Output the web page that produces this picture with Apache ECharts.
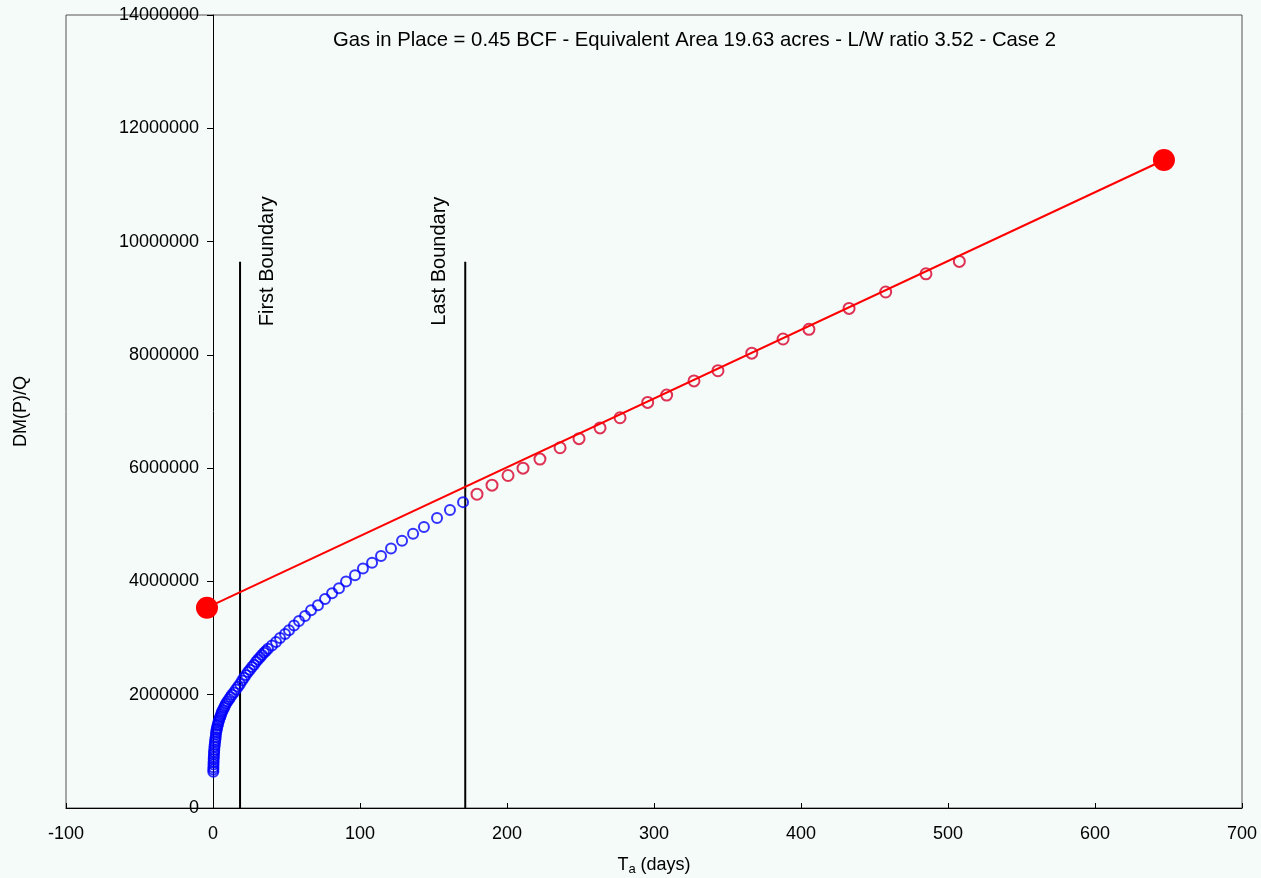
<!DOCTYPE html>
<html>
<head>
<meta charset="utf-8">
<title>DM(P)/Q vs Ta</title>
<script src="https://cdn.jsdelivr.net/npm/echarts@6/dist/echarts.min.js"></script>
<style>
  html, body { margin: 0; padding: 0; background: #f5fbf9; }
  #chart { width: 1261px; height: 878px; }
</style>
</head>
<body>
<div id="chart"></div>
<script>
// Material-balance time (days) and normalized pseudo-pressure drop, transient part
const blueT = [0.2, 0.25, 0.3, 0.35, 0.4, 0.47, 0.55, 0.65, 0.75, 0.87, 1.0, 1.2, 1.4, 1.6, 1.8, 2.0, 2.2, 2.45, 2.7, 3.0,
  3.4, 3.7, 4.1, 4.6, 5.1, 5.6, 6.1, 6.8, 7.5, 8.1, 8.8, 9.8, 10.9, 11.9, 12.9, 14.2, 15.6, 17.0, 18.4, 19.8,
  21.1, 22.4, 23.8, 25.1, 26.5, 27.9, 29.3, 30.6, 32.0, 33.3, 34.7, 36.0, 37.4, 40.1, 42.9, 45.6, 49.0, 51.7, 55.1, 58.5,
  62.6, 66.7, 71.4, 76.2, 81.0, 85.7, 90.5, 96.6, 102.0, 108.2, 114.3, 121.1, 128.6, 136.1, 143.5, 152.4, 161.2, 170.1];
const blueY = [640000, 680000, 720000, 770000, 810000, 860000, 900000, 950000, 990000, 1030000, 1080000, 1120000, 1170000, 1210000, 1250000, 1300000, 1340000, 1380000, 1410000, 1450000,
  1480000, 1520000, 1550000, 1590000, 1620000, 1660000, 1700000, 1730000, 1770000, 1800000, 1840000, 1880000, 1920000, 1960000, 2000000, 2040000, 2090000, 2140000, 2190000, 2250000,
  2300000, 2350000, 2400000, 2440000, 2490000, 2530000, 2580000, 2620000, 2660000, 2700000, 2740000, 2770000, 2810000, 2870000, 2930000, 3000000, 3070000, 3140000, 3220000, 3300000,
  3390000, 3490000, 3580000, 3690000, 3790000, 3880000, 4000000, 4110000, 4230000, 4330000, 4450000, 4580000, 4720000, 4840000, 4960000, 5120000, 5260000, 5400000];

// Boundary-dominated part
const redT = [179.6, 189.8, 200.7, 210.9, 222.4, 236.1, 249.0, 263.3, 276.9, 295.7, 308.6, 327.2, 343.5, 366.5, 387.8, 405.4, 432.7, 457.6, 485.0, 507.7];
const redY = [5540000, 5700000, 5870000, 6000000, 6160000, 6360000, 6520000, 6710000, 6890000, 7160000, 7290000, 7540000, 7720000, 8030000, 8280000, 8450000, 8820000, 9110000, 9430000, 9650000];

// Straight-line fit end points
const fitT = [-4.1, 646.9];
const fitY = [3536000, 11440000];

// Boundary times
const firstBoundaryT = 18.4;
const lastBoundaryT = 171.6;
const boundaryTop = 9645000;

const titleText = 'Gas in Place = 0.45 BCF - Equivalent Area 19.63 acres - L/W ratio 3.52 - Case 2';

const X_MIN = -100, X_MAX = 700;
const GRID_LEFT = 66, GRID_RIGHT = 19;

const FONT = 'Liberation Sans, Arial, Helvetica, sans-serif';
const chart = echarts.init(document.getElementById('chart'));

const zip = (a, b) => a.map((v, i) => [v, b[i]]);

// The y axis sits on x = 0: shift it inward from the grid's left edge
const plotWidth = 1261 - GRID_LEFT - GRID_RIGHT;
const yAxisShift = -plotWidth * (0 - X_MIN) / (X_MAX - X_MIN);

function boundarySeries(t, name, dx) {
  return {
    type: 'line',
    name: name,
    data: [
      { value: [t, 0] },
      { value: [t, boundaryTop], label: {
          show: true, formatter: name, rotate: 90, position: [dx, 0],
          align: 'center', verticalAlign: 'middle',
          color: '#000', fontSize: 20, fontFamily: FONT
        } }
    ],
    symbol: 'circle', symbolSize: 1,
    itemStyle: { color: 'rgba(0,0,0,0)' },
    lineStyle: { color: '#000', width: 2 },
    z: 2, silent: true
  };
}

chart.setOption({
  animation: false,
  backgroundColor: '#f5fbf9',
  textStyle: { fontFamily: FONT },
  title: {
    text: titleText, left: 328, top: 25,
    textStyle: { fontSize: 20.3, fontWeight: 'normal', color: '#000', fontFamily: FONT }
  },
  grid: {
    left: GRID_LEFT, right: GRID_RIGHT, top: 15, bottom: 70,
    outerBoundsMode: 'none', containLabel: false,
    show: true, borderColor: '#555', borderWidth: 1, backgroundColor: 'transparent'
  },
  xAxis: {
    type: 'value', min: X_MIN, max: X_MAX, interval: 100,
    name: '{t|T}{s|a}{t| (days)}', nameLocation: 'middle', nameGap: 47,
    nameTextStyle: {
      rich: {
        t: { fontSize: 18, color: '#000', fontFamily: FONT },
        s: { fontSize: 13, color: '#000', fontFamily: FONT, verticalAlign: 'bottom', padding: [8, 0, 0, 0] }
      }
    },
    axisLine: { onZero: false, lineStyle: { color: '#000', width: 1 } },
    axisTick: { inside: true, length: 5, lineStyle: { color: '#000' } },
    axisLabel: { color: '#000', fontSize: 18, margin: 17, fontFamily: FONT },
    splitLine: { show: false }
  },
  yAxis: {
    type: 'value', min: 0, max: 14000000, interval: 2000000,
    position: 'left', offset: yAxisShift,
    name: 'DM(P)/Q', nameLocation: 'middle', nameGap: 183, nameRotate: 90,
    nameTextStyle: { fontSize: 18, color: '#000', fontFamily: FONT },
    axisLine: { show: true, onZero: false, lineStyle: { color: '#000', width: 1 } },
    axisTick: { show: true, inside: false, length: 6, lineStyle: { color: '#000' } },
    axisLabel: { color: '#000', fontSize: 18, margin: 14, fontFamily: FONT, formatter: v => String(v) },
    splitLine: { show: false }
  },
  series: [
    boundarySeries(firstBoundaryT, 'First Boundary', 28),
    boundarySeries(lastBoundaryT, 'Last Boundary', -25),
    {
      type: 'scatter', name: 'transient',
      data: zip(blueT, blueY),
      symbol: 'circle', symbolSize: 10,
      itemStyle: { color: 'rgba(0,0,0,0)', borderColor: '#0000ff', borderWidth: 2 },
      z: 3, silent: true
    },
    {
      type: 'scatter', name: 'boundary dominated',
      data: zip(redT, redY),
      symbol: 'circle', symbolSize: 11,
      itemStyle: { color: 'rgba(0,0,0,0)', borderColor: '#d8002c', borderWidth: 2 },
      z: 3, silent: true
    },
    {
      type: 'line', name: 'fit',
      data: zip(fitT, fitY),
      symbol: 'circle', symbolSize: 22, showSymbol: true,
      itemStyle: { color: '#ff0000' },
      lineStyle: { color: '#ff0000', width: 2 },
      z: 4, silent: true
    }
  ]
});
</script>
</body>
</html>
